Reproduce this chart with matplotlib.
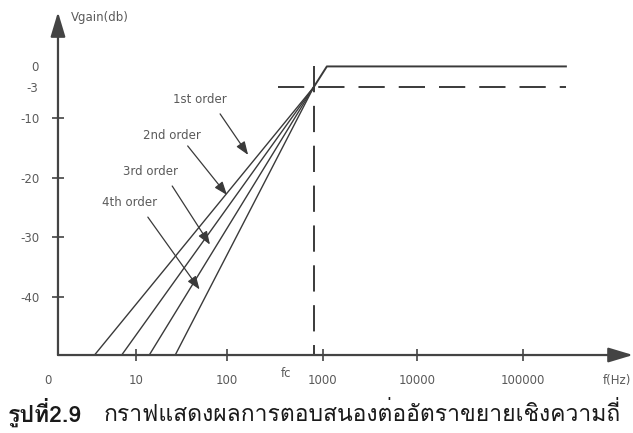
import matplotlib
matplotlib.use("Agg")
import matplotlib.pyplot as plt
import numpy as np

# frequency axis decades and the gain levels marked on the vertical axis
freq_ticks = [10, 100, 1000, 10000, 100000]
freq_tick_labels = ["10", "100", "1000", "10000", "100000"]
gain_ticks = [-10, -20, -30, -40]
gain_ref_levels = [0, -3]

fc = 800
# every roll-off leaves (fc, -3 dB) and reaches the floor of the plot at these frequencies
orders = ["1st order", "2nd order", "3rd order", "4th order"]
rolloff_end_freq = [3.7, 7.1, 14, 27]

passband_freq = [fc, 1100, 2.8e5]
passband_gain = [-3, 0, 0]
half_power_freq = [340, 2.8e5]

# callouts: (text position, arrow tail, arrow tip) as (Hz, dB)
label_pos = [(50, -5.9), (25, -12.9), (14.6, -18.9), (8.5, -24.1)]
arrow_tail = [(84, -9.1), (37, -14.7), (25, -21.4), (13.5, -26.6)]
arrow_tip = [(166, -16.2), (100, -22.9), (65, -31.2), (50, -38.7)]

# the sketch is not drawn to a strict scale, so both axes use piecewise spacing
_X_LOG = [-1, 0, 1, 2, 3, 4, 5, 6, 7]
_X_POS = [-192, -96, 0, 91, 187, 281, 387, 483, 579]
_Y_DB = [-110, -10, -3, 0, 20]
_Y_POS = [-605, 0, 31, 52, 192]


def _fwd_x(f):
    return np.interp(np.log10(np.maximum(f, 1e-6)), _X_LOG, _X_POS)


def _inv_x(p):
    return 10 ** np.interp(p, _X_POS, _X_LOG)


def _fwd_y(g):
    return np.interp(g, _Y_DB, _Y_POS)


def _inv_y(p):
    return np.interp(p, _Y_POS, _Y_DB)


INK = "#3a3a3a"
TEXT = "#5a5a5a"
FS = 8.5

fig = plt.figure(figsize=(6.33, 4.33), dpi=100)
ax = fig.add_axes([0.0916, 0.1801, 0.9084, 0.7921])
ax.set_xscale("function", functions=(_fwd_x, _inv_x))
ax.set_yscale("function", functions=(_fwd_y, _inv_y))
ax.set_xlim(1.54, 1.4e6)
ax.set_ylim(-49.66, 7.86)
y_floor = ax.get_ylim()[0]

for s in ax.spines.values():
    s.set_visible(False)

# axes drawn as arrows
arrow_kw = dict(arrowstyle="-|>,head_length=1.5,head_width=0.45", color="#444444",
                lw=1.6, shrinkA=0, shrinkB=0, mutation_scale=10)
ax.annotate("", xy=(0, 1), xytext=(0, 0), xycoords="axes fraction", arrowprops=arrow_kw)
ax.annotate("", xy=(1.0, 0), xytext=(0, 0), xycoords="axes fraction", arrowprops=arrow_kw)

ax.set_xticks(freq_ticks)
ax.set_xticklabels(freq_tick_labels)
ax.set_yticks(gain_ticks)
ax.set_yticklabels([str(v) for v in gain_ticks])
ax.set_yticks(gain_ref_levels, minor=True)
ax.set_yticklabels([str(v) for v in gain_ref_levels], minor=True)
ax.set_xticks([], minor=True)
ax.tick_params(which="major", direction="inout", length=8, width=1.2, color="#444444",
               labelsize=FS, labelcolor=TEXT)
ax.tick_params(axis="x", which="major", pad=10)
ax.tick_params(axis="y", which="major", pad=9)
ax.tick_params(axis="y", which="minor", length=0, pad=14, labelsize=FS, labelcolor=TEXT)

# roll-off slopes
for f_end in rolloff_end_freq:
    ax.plot([fc, f_end], [-3, y_floor], color=INK, lw=1.0, clip_on=False)

ax.plot(passband_freq, passband_gain, color=INK, lw=1.4)
ax.plot(half_power_freq, [-3, -3], color=INK, lw=1.4, dashes=(13.5, 7.2))
ax.plot([fc, fc], [0, y_floor], color=INK, lw=1.4, dashes=(13.5, 7.0))

for name, pos, tail, tip in zip(orders, label_pos, arrow_tail, arrow_tip):
    ax.text(*pos, name, fontsize=FS, color=TEXT, ha="center", va="center")
    ax.annotate("", xy=tip, xytext=tail,
                arrowprops=dict(arrowstyle="-|>,head_length=0.8,head_width=0.3",
                                color=INK, lw=0.9, shrinkA=0, shrinkB=0,
                                mutation_scale=10))

ax.annotate("Vgain(db)", xy=(0, 1), xycoords="axes fraction", xytext=(9, -4),
            textcoords="offset points", fontsize=FS, color=TEXT, ha="left", va="center")
ax.annotate("0", xy=(0, 0), xycoords="axes fraction", xytext=(-7, -18),
            textcoords="offset points", fontsize=FS, color=TEXT, ha="center", va="center")
ax.annotate("fc", xy=(fc, y_floor), xytext=(-20, -13), textcoords="offset points",
            fontsize=FS, color=TEXT, ha="center", va="center")
ax.annotate("f(Hz)", xy=(1, 0), xycoords="axes fraction", xytext=(-1, -18),
            textcoords="offset points", fontsize=FS, color=TEXT, ha="right", va="center")

thai = ["Loma", "DejaVu Sans"]
fig.text(0.013, 0.027, "รูปที่2.9", fontsize=16.5, fontweight="bold", family=thai,
         color="#1a1a1a", va="baseline")
fig.text(0.163, 0.027, "กราฟแสดงผลการตอบสนองต่ออัตราขยายเชิงความถี่", fontsize=16.5,
         family=thai, color="#1a1a1a", va="baseline")

fig.savefig("out.png", dpi=100)
